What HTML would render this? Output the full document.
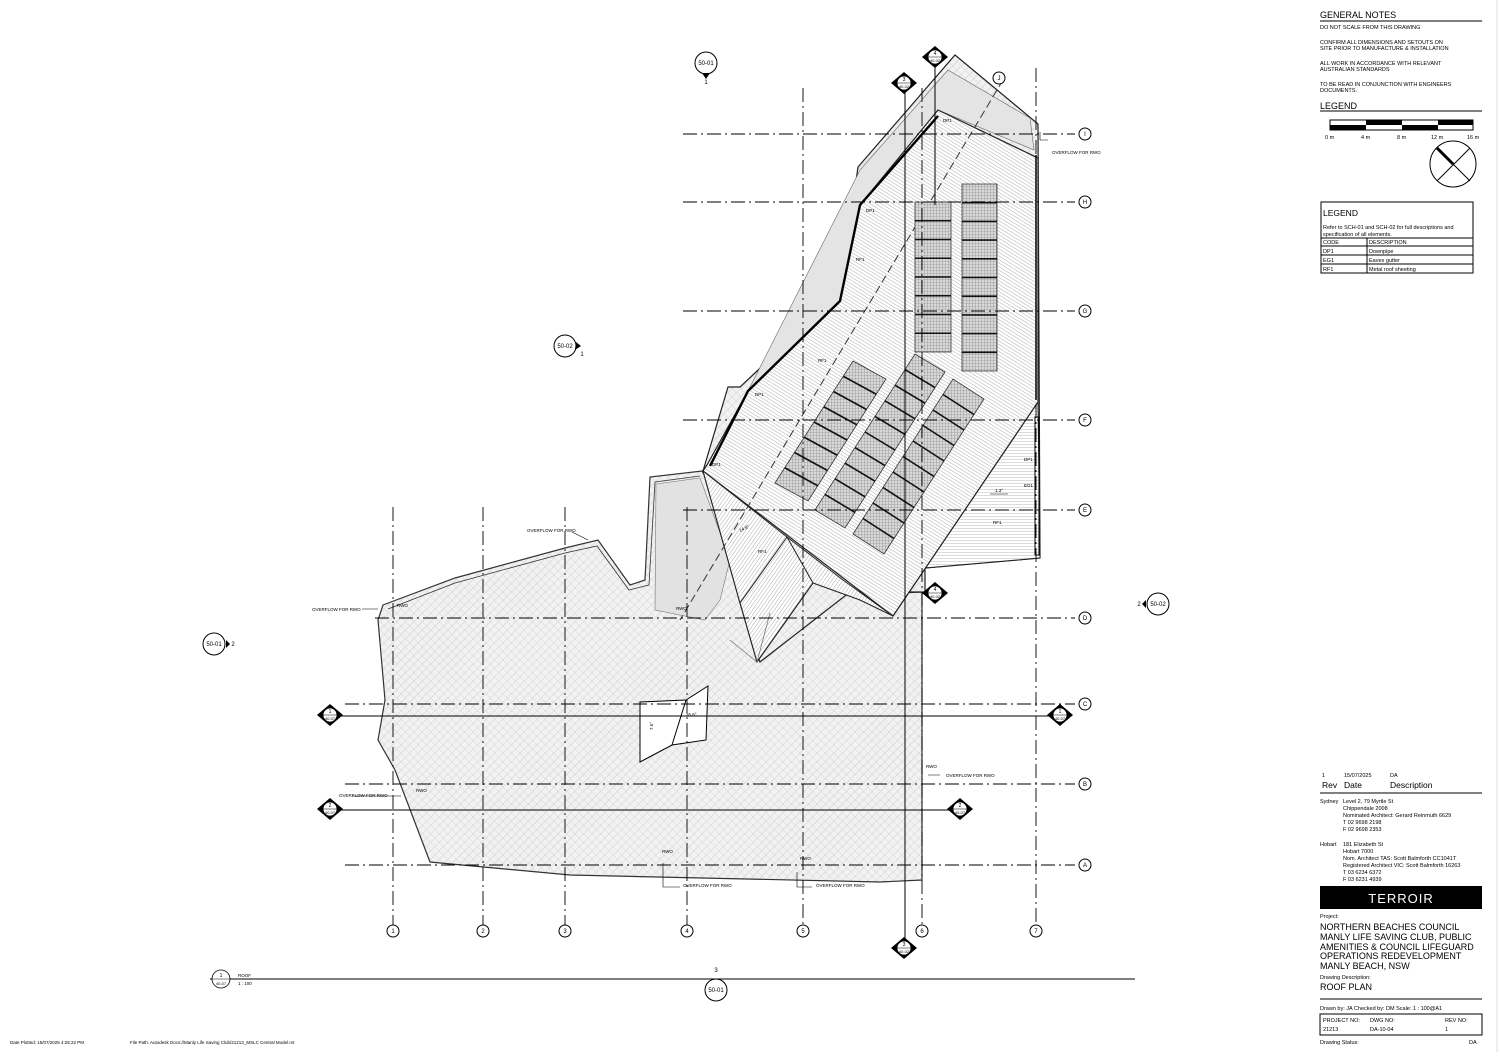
<!DOCTYPE html>
<html><head><meta charset="utf-8"><style>
body{margin:0;background:#fff;width:1500px;height:1052px;overflow:hidden;font-family:"Liberation Sans",sans-serif}
svg text{font-family:"Liberation Sans",sans-serif}
</style></head><body>
<svg id="s" width="1500" height="1052" viewBox="0 0 1500 1052" xmlns="http://www.w3.org/2000/svg">
<defs>
<pattern id="hx" width="6" height="6" patternUnits="userSpaceOnUse" patternTransform="rotate(45)"><rect width="6" height="6" fill="#f2f2f2"/><line x1="0" y1="0" x2="0" y2="6" stroke="#cdcdcd" stroke-width="1"/><line x1="0" y1="3" x2="6" y2="3" stroke="#dcdcdc" stroke-width="0.6"/></pattern>
<pattern id="hd" width="3" height="3" patternUnits="userSpaceOnUse" patternTransform="rotate(-58)"><rect width="3" height="3" fill="#fff"/><line x1="0" y1="0" x2="0" y2="3" stroke="#888" stroke-width="0.7"/></pattern>
<pattern id="hd2" width="3" height="3" patternUnits="userSpaceOnUse" patternTransform="rotate(35)"><rect width="3" height="3" fill="#fff"/><line x1="0" y1="0" x2="0" y2="3" stroke="#888" stroke-width="0.7"/></pattern>
<pattern id="hh" width="3" height="3" patternUnits="userSpaceOnUse"><rect width="3" height="3" fill="#fff"/><line x1="0" y1="0" x2="3" y2="0" stroke="#999" stroke-width="0.7"/></pattern>
<pattern id="mesh" width="3" height="3" patternUnits="userSpaceOnUse"><rect width="3" height="3" fill="#d8d8d8"/><path d="M0 0H3M0 0V3" stroke="#777" stroke-width="0.6"/></pattern>
</defs>

<!-- lower roof -->
<polygon points="383,605 455,578 565,548 598,540 630,585 645,580 650,477 702,471 742,540 800,560 850,595 922,592 922,880 880,882 570,875 430,862 395,770 378,740 385,700 378,620" fill="url(#hx)" stroke="#333" stroke-width="1.2"/>
<polyline points="388,609 455,583 565,553 597,546 629,590 649,585 655,482 700,476" fill="none" stroke="#333" stroke-width="0.8"/>
<polygon points="656,484 700,478 730,560 720,600 705,620 655,610" fill="#e2e2e2" stroke="#777" stroke-width="0.6"/>

<!-- upper roof outer parapet -->
<polygon points="955,55 1038,124 1040,558 925,568 925,592 850,592 760,662 740,603 703,471 728,387 740,387 840,293 858,167" fill="url(#hx)" stroke="#222" stroke-width="1.2"/>
<polygon points="948,70 1030,118 1034,150 938,110 860,205 840,300 748,391 710,466 860,170" fill="#e4e4e4" stroke="#666" stroke-width="0.6"/>
<!-- horizontal hatched right portion -->
<polygon points="1038,402 1040,558 925,568 893,616" fill="url(#hh)" stroke="#222" stroke-width="1"/>
<!-- main tilted roof -->
<polygon points="938,110 1038,158 1038,402 893,616 703,471 707,465 748,391 840,301 860,205" fill="url(#hd)" stroke="#222" stroke-width="1.2"/>
<!-- lower triangles -->
<polygon points="703,471 787,537 843,580 893,616 860,600 813,583 757,662 740,603" fill="url(#hd2)" stroke="#222" stroke-width="1"/>
<polyline points="787,537 740,603 757,662 813,583 787,537" fill="none" stroke="#222" stroke-width="1"/>
<polyline points="730,640 757,662 770,613" fill="none" stroke="#777" stroke-width="0.8"/>
<polyline points="710,466 748,391 840,301 860,205 938,116" fill="none" stroke="#000" stroke-width="2.4"/>
<line x1="1036" y1="155" x2="1036" y2="400" stroke="#000" stroke-width="1.5"/>
<rect x="1035" y="417" width="4" height="138" fill="none" stroke="#000" stroke-width="1"/>
<line x1="1003" y1="80" x2="680" y2="620" stroke="#333" stroke-dasharray="8,4"/>

<g id="panels"></g>

<!-- dimension box -->
<polygon points="640,702 686,700 708,686 706,740 672,745 640,762" fill="#fff" stroke="#000"/>
<line x1="686" y1="700" x2="672" y2="745" stroke="#000"/>

<!-- grid lines -->
<g stroke="#000" stroke-width="0.9" stroke-dasharray="14,4,2,4" fill="none">
<line x1="683" y1="134" x2="1075" y2="134"/><line x1="683" y1="202" x2="1075" y2="202"/>
<line x1="683" y1="311" x2="1075" y2="311"/><line x1="683" y1="420" x2="1075" y2="420"/>
<line x1="683" y1="510" x2="1075" y2="510"/><line x1="375" y1="618" x2="1075" y2="618"/>
<line x1="345" y1="704" x2="1075" y2="704"/><line x1="345" y1="784" x2="1075" y2="784"/>
<line x1="345" y1="865" x2="1075" y2="865"/>
<line x1="393" y1="507" x2="393" y2="925"/><line x1="483" y1="507" x2="483" y2="925"/>
<line x1="565" y1="507" x2="565" y2="925"/><line x1="687" y1="507" x2="687" y2="925"/>
<line x1="803" y1="88" x2="803" y2="925"/><line x1="922" y1="88" x2="922" y2="925"/>
<line x1="1036" y1="68" x2="1036" y2="925"/>
</g>
<g stroke="#000" stroke-width="1">
<line x1="905" y1="88" x2="905" y2="945"/><line x1="935" y1="62" x2="935" y2="205"/>
<line x1="330" y1="716" x2="1060" y2="716"/><line x1="330" y1="810" x2="960" y2="810"/>
<line x1="210" y1="979" x2="1135" y2="979"/>
</g>
<g fill="#fff" stroke="#000" font-size="7" text-anchor="middle">
<circle cx="1085" cy="134" r="6"/><circle cx="1085" cy="202" r="6"/><circle cx="1085" cy="311" r="6"/>
<circle cx="1085" cy="420" r="6"/><circle cx="1085" cy="510" r="6"/><circle cx="1085" cy="618" r="6"/>
<circle cx="1085" cy="704" r="6"/><circle cx="1085" cy="784" r="6"/><circle cx="1085" cy="865" r="6"/>
<circle cx="393" cy="931" r="6"/><circle cx="483" cy="931" r="6"/><circle cx="565" cy="931" r="6"/>
<circle cx="687" cy="931" r="6"/><circle cx="803" cy="931" r="6"/><circle cx="922" cy="931" r="6"/>
<circle cx="1036" cy="931" r="6"/><circle cx="999" cy="78" r="6"/>
<circle cx="706" cy="63" r="11"/><circle cx="565" cy="346" r="11"/><circle cx="214" cy="644" r="11"/>
<circle cx="1158" cy="604" r="11"/><circle cx="716" cy="990" r="11"/>
</g>
<g fill="#000"><path d="M702,73 L710,73 L706,79Z"/><path d="M575,350 L581,346 L576,342Z"/><path d="M226,648 L230,644 L226,640Z"/><path d="M1146,608 L1142,604 L1146,600Z"/></g>
<g font-size="6" text-anchor="middle" fill="#000">
<text x="1085" y="136">I</text><text x="1085" y="204">H</text><text x="1085" y="313">G</text><text x="1085" y="422">F</text><text x="1085" y="512">E</text><text x="1085" y="620">D</text><text x="1085" y="706">C</text><text x="1085" y="786">B</text><text x="1085" y="867">A</text>
<text x="393" y="933">1</text><text x="483" y="933">2</text><text x="565" y="933">3</text><text x="687" y="933">4</text><text x="803" y="933">5</text><text x="922" y="933">6</text><text x="1036" y="933">7</text><text x="999" y="80">J</text>
<text x="706" y="65">50-01</text><text x="565" y="348">50-02</text><text x="214" y="646">50-01</text><text x="1158" y="606">50-02</text><text x="716" y="992">50-01</text>
<text x="706" y="84">1</text><text x="582" y="356">1</text><text x="233" y="646">2</text><text x="1139" y="606">2</text><text x="716" y="972">3</text>
</g>
<g fill="#000">
<path d="M935,46 L948,57 L935,68 L922,57Z"/><path d="M904,72 L891,83 L904,94 L917,83Z"/><path d="M935,582 L948,593 L935,604 L922,593Z"/>
<path d="M330,704 L317,715 L330,726 L343,715Z"/><path d="M1060,704 L1047,715 L1060,726 L1073,715Z"/>
<path d="M330,798 L317,809 L330,820 L343,809Z"/><path d="M960,798 L947,809 L960,820 L973,809Z"/><path d="M904,937 L891,948 L904,959 L917,948Z"/>
</g>
<g fill="#fff" stroke="#000" stroke-width="0.8"><circle cx="935" cy="57" r="7"/><circle cx="904" cy="83" r="7"/><circle cx="935" cy="593" r="7"/><circle cx="330" cy="715" r="7"/><circle cx="1060" cy="715" r="7"/><circle cx="330" cy="809" r="7"/><circle cx="960" cy="809" r="7"/><circle cx="904" cy="948" r="7"/><circle cx="221" cy="979" r="9"/></g>
<g stroke="#000" stroke-width="0.5"><line x1="928" y1="57" x2="942" y2="57"/><line x1="897" y1="83" x2="911" y2="83"/><line x1="928" y1="593" x2="942" y2="593"/><line x1="323" y1="715" x2="337" y2="715"/><line x1="1053" y1="715" x2="1067" y2="715"/><line x1="323" y1="809" x2="337" y2="809"/><line x1="953" y1="809" x2="967" y2="809"/><line x1="897" y1="948" x2="911" y2="948"/><line x1="212" y1="979" x2="230" y2="979"/></g>
<g font-size="5" text-anchor="middle"><text x="935" y="55">4</text><text x="904" y="81">3</text><text x="935" y="591">4</text><text x="330" y="713">1</text><text x="1060" y="713">1</text><text x="330" y="807">2</text><text x="960" y="807">2</text><text x="904" y="946">3</text><text x="221" y="977">1</text>
<text x="935" y="62" font-size="4">40-02</text><text x="904" y="88" font-size="4">40-02</text><text x="935" y="598" font-size="4">40-02</text><text x="330" y="720" font-size="4">40-07</text><text x="1060" y="720" font-size="4">40-07</text><text x="330" y="814" font-size="4">40-07</text><text x="960" y="814" font-size="4">40-07</text><text x="904" y="953" font-size="4">40-02</text><text x="221" y="985" font-size="4">40-07</text></g>
<g font-size="4.5"><text x="238" y="977">ROOF</text><text x="238" y="985">1 : 100</text>
<text x="1052" y="154">OVERFLOW FOR RWO</text><text x="527" y="532">OVERFLOW FOR RWO</text><text x="312" y="611">OVERFLOW FOR RWO</text>
<text x="339" y="797">OVERFLOW FOR RWO</text><text x="946" y="777">OVERFLOW FOR RWO</text><text x="683" y="887">OVERFLOW FOR RWO</text><text x="816" y="887">OVERFLOW FOR RWO</text>
<text x="397" y="607">RWO</text><text x="676" y="610">RWO</text><text x="926" y="768">RWO</text><text x="416" y="792">RWO</text><text x="662" y="853">RWO</text><text x="800" y="860">RWO</text>
<text x="10" y="1044">Date Plotted: 15/07/2025 4:25:22 PM</text><text x="130" y="1044">File Path: Autodesk Docs://Manly Life Saving Club/21213_MSLC Central Model.rvt</text>
<text x="740" y="532" transform="rotate(-25 740 532)">14.8°</text><text x="686" y="716">35.6°</text><text x="653" y="730" transform="rotate(-90 653 730)">7.5°</text><text x="995" y="492">1.3°</text><text x="993" y="524">RF1</text><text x="758" y="553">RF1</text><text x="818" y="362">RF1</text><text x="856" y="261">RF1</text>
<text x="943" y="122">DP1</text><text x="866" y="212">DP1</text><text x="755" y="396">DP1</text><text x="712" y="466">DP1</text><text x="1024" y="461">DP1</text><text x="1024" y="487">EG1</text>
</g>
<g stroke="#000" stroke-width="0.6" fill="none"><path d="M362,609H378M352,796H401M1040,132V140M1048,140H1040M663,863V887H680M797,872V887H812M940,775H928M572,532L588,540M990,494H1008"/></g>

<!-- right panel -->
<g font-size="5.5" fill="#000">
<text x="1320" y="18" font-size="9">GENERAL NOTES</text>
<line x1="1320" y1="21" x2="1482" y2="21" stroke="#000"/>
<text x="1320" y="29">DO NOT SCALE FROM THIS DRAWING</text>
<text x="1320" y="44">CONFIRM ALL DIMENSIONS AND SETOUTS ON</text><text x="1320" y="50">SITE PRIOR TO MANUFACTURE &amp; INSTALLATION</text>
<text x="1320" y="65">ALL WORK IN ACCORDANCE WITH RELEVANT</text><text x="1320" y="71">AUSTRALIAN STANDARDS</text>
<text x="1320" y="86">TO BE READ IN CONJUNCTION WITH ENGINEERS</text><text x="1320" y="92">DOCUMENTS.</text>
<text x="1320" y="109" font-size="9">LEGEND</text>
<line x1="1320" y1="111" x2="1482" y2="111" stroke="#000"/>
<rect x="1330" y="120" width="143" height="10" fill="#fff" stroke="#000"/>
<rect x="1330" y="125" width="36" height="5"/><rect x="1366" y="120" width="36" height="5"/><rect x="1402" y="125" width="36" height="5"/><rect x="1438" y="120" width="35" height="5"/>
<text x="1325" y="139">0 m</text><text x="1361" y="139">4 m</text><text x="1397" y="139">8 m</text><text x="1431" y="139">12 m</text><text x="1467" y="139">16 m</text>
<circle cx="1453" cy="164" r="23" fill="none" stroke="#000"/>
<line x1="1437" y1="148" x2="1470" y2="181" stroke="#000"/><line x1="1470" y1="148" x2="1437" y2="181" stroke="#000"/>
<line x1="1437" y1="148" x2="1453" y2="164" stroke="#000" stroke-width="3"/>
<rect x="1321" y="202" width="152" height="71" fill="none" stroke="#000"/>
<text x="1323" y="216" font-size="8.5">LEGEND</text>
<text x="1323" y="229">Refer to SCH-01 and SCH-02 for full descriptions and</text><text x="1323" y="236">specification of all elements.</text>
<line x1="1321" y1="238" x2="1473" y2="238" stroke="#000"/><line x1="1321" y1="246" x2="1473" y2="246" stroke="#000"/><line x1="1321" y1="255" x2="1473" y2="255" stroke="#000"/><line x1="1321" y1="264" x2="1473" y2="264" stroke="#000"/>
<line x1="1367" y1="238" x2="1367" y2="273" stroke="#000"/>
<text x="1323" y="244">CODE</text><text x="1369" y="244">DESCRIPTION</text>
<text x="1323" y="253">DP1</text><text x="1369" y="253">Downpipe</text>
<text x="1323" y="262">EG1</text><text x="1369" y="262">Eaves gutter</text>
<text x="1323" y="271">RF1</text><text x="1369" y="271">Metal roof sheeting</text>

<text x="1322" y="777">1</text><text x="1344" y="777">15/07/2025</text><text x="1390" y="777">DA</text>
<text x="1322" y="788" font-size="8.5">Rev</text><text x="1344" y="788" font-size="8.5">Date</text><text x="1390" y="788" font-size="8.5">Description</text>
<line x1="1320" y1="793" x2="1482" y2="793" stroke="#000"/>
<text x="1320" y="803">Sydney</text><text x="1343" y="803">Level 2, 79 Myrtle St</text><text x="1343" y="810">Chippendale 2008</text><text x="1343" y="817">Nominated Architect: Gerard Reinmuth 6629</text><text x="1343" y="824">T 02 9698 2198</text><text x="1343" y="831">F 02 9698 2353</text>
<text x="1320" y="846">Hobart</text><text x="1343" y="846">181 Elizabeth St</text><text x="1343" y="853">Hobart 7000</text><text x="1343" y="860">Nom. Architect TAS: Scott Balmforth CC1041T</text><text x="1343" y="867">Registered Architect VIC: Scott Balmforth 16263</text><text x="1343" y="874">T 03 6234 6372</text><text x="1343" y="881">F 03 6231 4939</text>
<rect x="1320" y="886" width="162" height="23"/>
<text x="1401" y="903" font-size="13" fill="#fff" text-anchor="middle" letter-spacing="1">TERROIR</text>
<text x="1320" y="918">Project:</text>
<g font-size="9"><text x="1320" y="930">NORTHERN BEACHES COUNCIL</text><text x="1320" y="940">MANLY LIFE SAVING CLUB, PUBLIC</text><text x="1320" y="950">AMENITIES &amp; COUNCIL LIFEGUARD</text><text x="1320" y="959">OPERATIONS REDEVELOPMENT</text><text x="1320" y="969">MANLY BEACH, NSW</text></g>
<text x="1320" y="979">Drawing Description:</text>
<text x="1320" y="990" font-size="9">ROOF PLAN</text>
<line x1="1320" y1="999" x2="1482" y2="999" stroke="#000"/>
<text x="1320" y="1010">Drawn by: JA   Checked by: DM  Scale:  1 : 100@A1</text>
<rect x="1320" y="1014" width="162" height="21" fill="none" stroke="#000"/>
<text x="1323" y="1022">PROJECT NO:</text><text x="1370" y="1022">DWG NO:</text><text x="1445" y="1022">REV NO:</text>
<text x="1323" y="1031">21213</text><text x="1370" y="1031">DA-10-04</text><text x="1445" y="1031">1</text>
<text x="1320" y="1044">Drawing Status:</text><text x="1469" y="1044">DA</text>
</g>
<line x1="1497" y1="0" x2="1497" y2="1052" stroke="#ddd"/>
</svg>
<script>
(function(){
var g=document.getElementById('panels'),h='';
function arr(x0,y0,x1,y1,x2,y2,n){
 var wx=x2-x0,wy=y2-y0;
 h+='<polygon points="'+x0+','+y0+' '+x2+','+y2+' '+(x1+wx)+','+(y1+wy)+' '+x1+','+y1+'" fill="url(#mesh)" stroke="#333" stroke-width="0.8"/>';
 for(var i=1;i<n;i++){var t=i/n,px=x0+(x1-x0)*t,py=y0+(y1-y0)*t;
  h+='<line x1="'+px+'" y1="'+py+'" x2="'+(px+wx)+'" y2="'+(py+wy)+'" stroke="#111" stroke-width="1.6"/>';}
}
arr(915,202,915,352,951,202,8);
arr(962,184,962,371,997,184,10);
arr(853,361,775,483,886,379,8);
arr(915,354,815,510,945,372,10);
arr(953,379,853,534,984,399,10);
g.innerHTML=h;
})();
</script>
</body></html>
